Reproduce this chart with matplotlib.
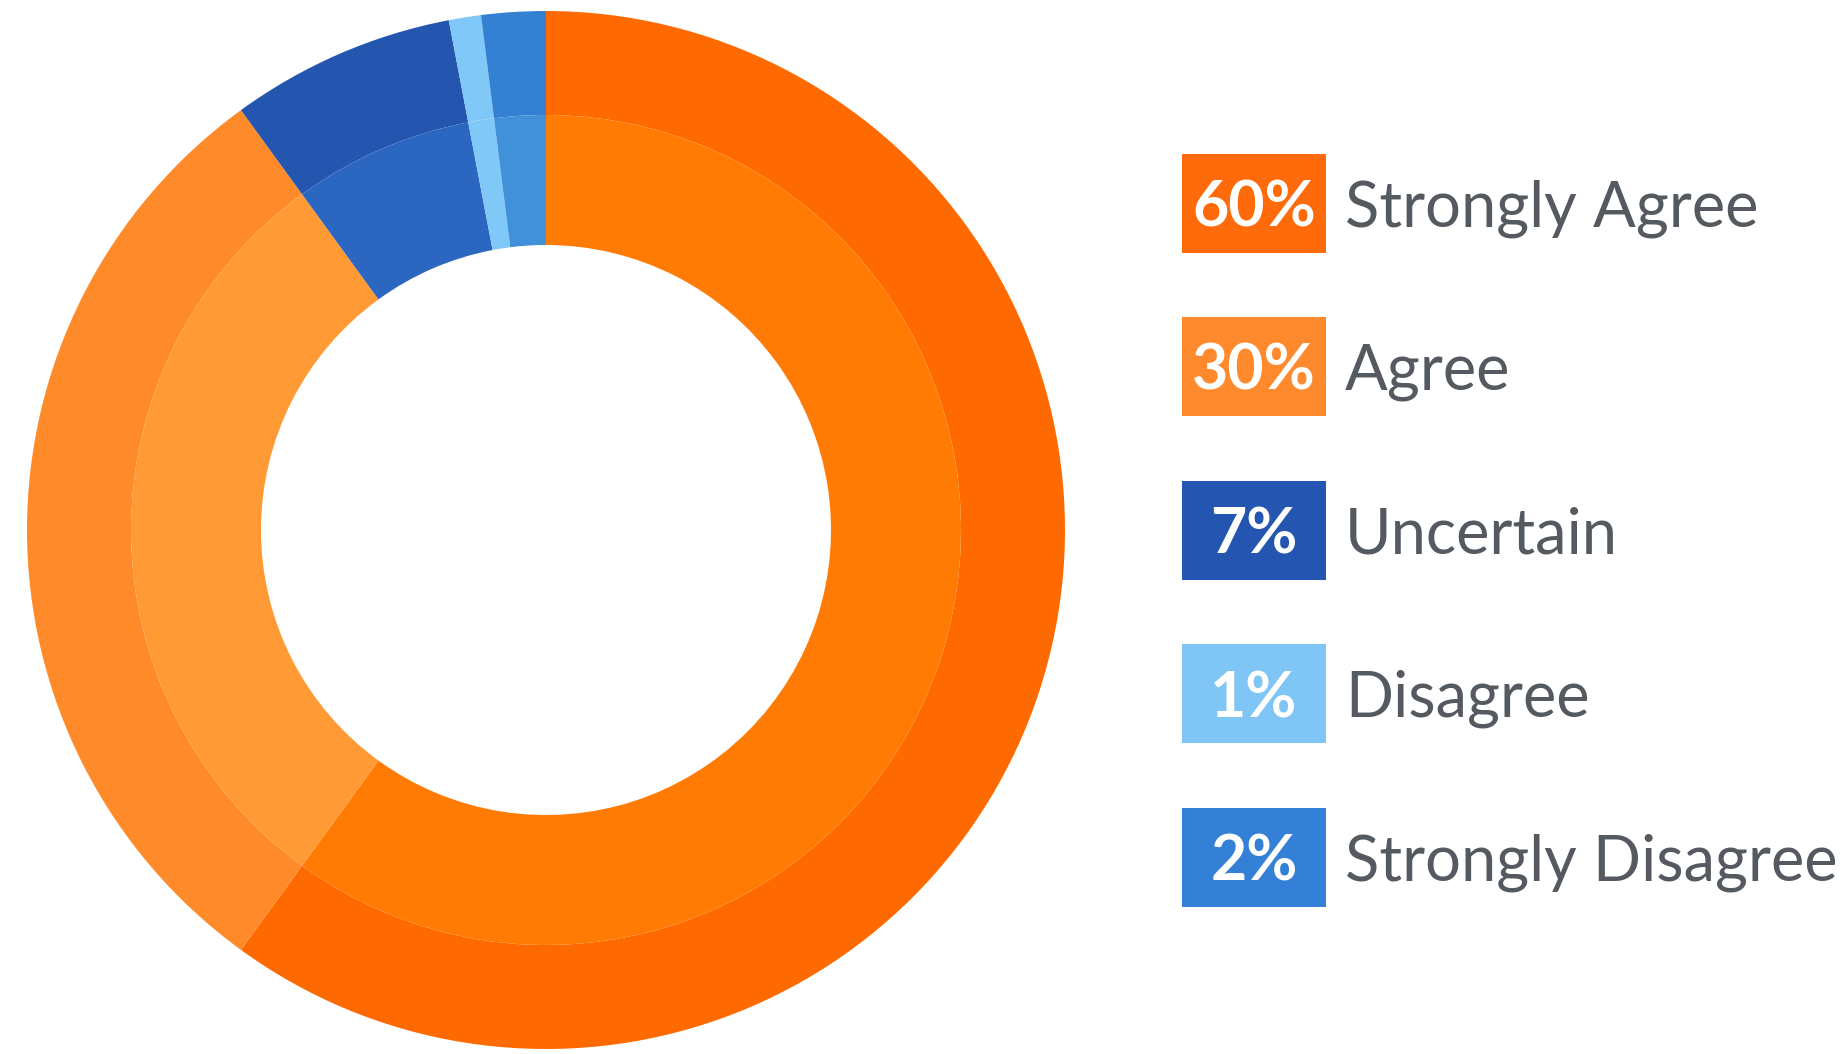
import matplotlib
matplotlib.use("Agg")
import matplotlib.pyplot as plt
from matplotlib.patches import Rectangle

categories = ["Strongly Agree", "Agree", "Uncertain", "Disagree", "Strongly Disagree"]
values = [60, 30, 7, 1, 2]
pct_labels = ["60%", "30%", "7%", "1%", "2%"]

outer_colors = ["#FF6A00", "#FF8A2A", "#2456B0", "#80C8F8", "#3480D2"]
inner_colors = ["#FF7B03", "#FF9A35", "#2B66C0", "#80C8F8", "#4090DA"]
legend_colors = ["#FF6A0A", "#FF8A2E", "#2455B0", "#7FC6F6", "#3380D6"]

W, H = 1848, 1054
fig = plt.figure(figsize=(W / 100, H / 100), dpi=100)
ax = fig.add_axes([0, 0, 1, 1])
ax.set_xlim(0, W)
ax.set_ylim(0, H)
ax.set_aspect("equal")
ax.axis("off")

cx, cy = 546, H - 530
r_out, r_mid, r_in = 519, 415, 285

ax.pie(values, colors=outer_colors, radius=r_out, center=(cx, cy),
       startangle=90, counterclock=False,
       wedgeprops=dict(width=r_out - r_mid, edgecolor="none", linewidth=0))
ax.pie(values, colors=inner_colors, radius=r_mid, center=(cx, cy),
       startangle=90, counterclock=False,
       wedgeprops=dict(width=r_mid - r_in, edgecolor="none", linewidth=0))
ax.set_xlim(0, W)
ax.set_ylim(0, H)

box_x, box_w, box_h = 1182, 144, 99
top_center = 203
step = 163.5
for i, (lab, pct, col) in enumerate(zip(categories, pct_labels, legend_colors)):
    yc = H - (top_center + i * step)
    ax.add_patch(Rectangle((box_x, yc - box_h / 2), box_w, box_h,
                           facecolor=col, edgecolor="none"))
    ax.text(box_x + box_w / 2, yc, pct, ha="center", va="center_baseline",
            fontsize=45, fontweight="bold", color="white", family="Lato")
    ax.text(1345, yc, lab, ha="left", va="center_baseline",
            fontsize=45.5, color="#555a60", family="Lato")

fig.savefig("out.png", dpi=100, facecolor="white")
